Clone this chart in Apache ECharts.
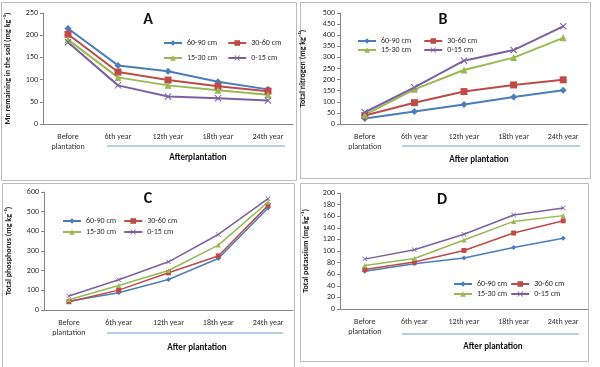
<!DOCTYPE html>
<html>
<head>
<meta charset="utf-8">
<script src="https://cdn.jsdelivr.net/npm/echarts@6/dist/echarts.min.js"></script>
<style>
  html, body { margin: 0; padding: 0; background: #fff; }
  #chart { width: 600px; height: 367px; }
</style>
</head>
<body>
<div id="chart"></div>
<script>
// categories and depth classes shared by the four panels
var categories = ['Before\nplantation', '6th year', '12th year', '18th year', '24th year'];
var depths = ['60-90 cm', '30-60 cm', '15-30 cm', '0-15 cm'];

// A - Mn remaining in the soil
var mn_60_90 = [215, 132, 119, 95, 78];
var mn_30_60 = [202, 117, 99, 85, 74];
var mn_15_30 = [190, 105, 87, 76, 66];
var mn_0_15 = [184, 87, 62, 58, 53];

// B - total nitrogen
var n_60_90 = [25, 56, 88, 122, 152];
var n_30_60 = [38, 96, 146, 176, 199];
var n_15_30 = [41, 156, 243, 299, 388];
var n_0_15 = [53, 165, 285, 333, 440];

// C - total phosphorus
var p_60_90 = [45, 88, 155, 262, 519];
var p_30_60 = [42, 101, 189, 275, 532];
var p_15_30 = [52, 125, 201, 330, 549];
var p_0_15 = [71, 154, 245, 384, 566];

// D - total potassium
var k_60_90 = [65, 78, 88, 106, 122];
var k_30_60 = [68, 81, 101, 131, 152];
var k_15_30 = [75, 87, 119, 151, 161];
var k_0_15 = [86, 102, 129, 162, 174];

var colors = ['#4A7EBB', '#BE4B48', '#98B954', '#7D60A0'];
var xMark = 'path://M0,1L1,0L5,4L9,0L10,1L6,5L10,9L9,10L5,6L1,10L0,9L4,5Z';
var symbols = ['diamond', 'rect', 'triangle', xMark];
var font = 'Carlito, "Liberation Sans", sans-serif';

var chart = echarts.init(document.getElementById('chart'), null, {renderer: 'canvas'});

var grids = [
    {left: 43, top: 13, width: 250, height: 111},
    {left: 340, top: 13, width: 248, height: 111},
    {left: 44, top: 192, width: 249, height: 118},
    {left: 340, top: 193, width: 248, height: 116}
];
var yNames = [
    'Mn remaining in the soil (mg kg\u207B\u00B9)',
    'Total nitrogen (mg kg\u207B\u00B9)',
    'Total phosphorus (mg kg\u207B\u00B9)',
    'Total potassium (mg kg\u207B\u00B9)'
];
var yMax = [250, 500, 600, 200];
var yStep = [50, 50, 100, 20];
var yGap = [31, 33, 31, 30];
var panelData = [
    [mn_60_90, mn_30_60, mn_15_30, mn_0_15],
    [n_60_90, n_30_60, n_15_30, n_0_15],
    [p_60_90, p_30_60, p_15_30, p_0_15],
    [k_60_90, k_30_60, k_15_30, k_0_15]
];

var xAxes = [], yAxes = [], series = [];
grids.forEach(function (g, i) {
    xAxes.push({
        type: 'category', gridIndex: i, data: categories, boundaryGap: true,
        axisLine: {lineStyle: {color: '#868686'}},
        axisTick: {length: 3, lineStyle: {color: '#868686'}},
        axisLabel: {fontSize: 8, color: '#303030', margin: 8, lineHeight: 10, fontFamily: font, interval: 0}
    });
    yAxes.push({
        type: 'value', gridIndex: i, min: 0, max: yMax[i], interval: yStep[i],
        name: yNames[i], nameLocation: 'middle', nameGap: yGap[i],
        nameTextStyle: {fontSize: 8, fontWeight: 'bold', color: '#202020', fontFamily: font},
        axisLine: {show: true, lineStyle: {color: '#868686'}},
        axisTick: {show: true, length: 3, lineStyle: {color: '#868686'}},
        splitLine: {show: false},
        axisLabel: {fontSize: 8, color: '#303030', margin: 5, fontFamily: font}
    });
    var big = i < 2;
    panelData[i].forEach(function (vals, j) {
        series.push({
            name: depths[j], type: 'line', xAxisIndex: i, yAxisIndex: i,
            data: vals, symbol: symbols[j],
            symbolSize: big ? (j == 3 ? 7 : 7) : 5,
            color: colors[j],
            lineStyle: {width: big ? 2 : 1.5},
            itemStyle: {color: colors[j]}
        });
    });
});

// two legend rows per panel: [left, top of row 1, top of row 2, gap]
var legendPos = [
    [163, 39, 54, 10],
    [357, 37, 46, 12],
    [62, 217, 228, 7],
    [453, 280, 290, 3]
];
var legends = [];
legendPos.forEach(function (p) {
    [[depths[0], depths[1]], [depths[2], depths[3]]].forEach(function (row, r) {
        legends.push({
            data: row, left: p[0], top: r == 0 ? p[1] : p[2], orient: 'horizontal',
            itemWidth: 18, itemHeight: 7, itemGap: p[3], padding: 0,
            textStyle: {fontSize: 8, color: '#303030', width: 36, fontFamily: font}
        });
    });
});

function label(text, x, y, size, bold) {
    return {type: 'text', x: x, y: y, style: {text: text, fontSize: size, fontWeight: bold ? 'bold' : 'normal',
        fill: '#111', align: 'center', verticalAlign: 'middle', fontFamily: font}};
}
function uline(x1, x2, y) {
    return {type: 'line', shape: {x1: x1, y1: y, x2: x2, y2: y}, style: {stroke: '#6F9FD8', lineWidth: 1}};
}
function frame(x, y, w, h) {
    return {type: 'rect', shape: {x: x, y: y, width: w, height: h}, style: {fill: 'none', stroke: '#bdbdbd', lineWidth: 1}};
}

var graphics = [
    frame(1.5, 2.5, 295, 178), frame(300.5, 2.5, 290, 176),
    frame(2.5, 183.5, 292, 190), frame(300.5, 183.5, 288, 178),
    label('A', 148, 20, 16, true), label('B', 443, 20, 16, true),
    label('C', 148, 199, 16, true), label('D', 442, 200, 16, true),
    uline(107, 285, 146), uline(402, 580, 146), uline(107, 283, 333), uline(402, 579, 334),
    label('Afterplantation', 198, 158, 9, true), label('After plantation', 479, 160, 9, true),
    label('After plantation', 197, 348, 9, true), label('After plantation', 493, 347, 9, true)
];

var option = {
    animation: false,
    backgroundColor: '#fff',
    grid: grids,
    xAxis: xAxes,
    yAxis: yAxes,
    legend: legends,
    series: series,
    graphic: graphics
};

chart.setOption(option);
</script>
</body>
</html>
